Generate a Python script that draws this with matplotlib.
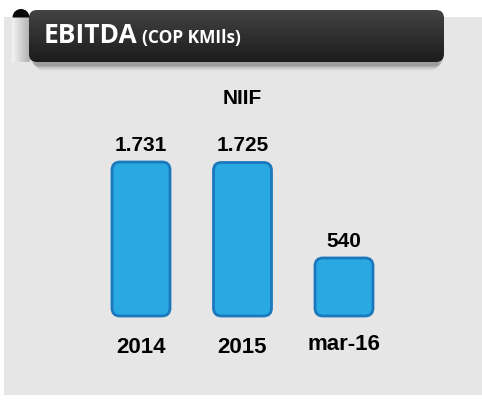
import numpy as np
import matplotlib
matplotlib.use("Agg")
import matplotlib.pyplot as plt
from matplotlib.patches import FancyBboxPatch, Rectangle, Wedge

# chart data
categories = ["2014", "2015", "mar-16"]
values = np.array([1731, 1725, 540])
value_labels = ["1.731", "1.725", "540"]
series_name = "NIIF"
title_main = "EBITDA"
title_unit = "(COP KMIls)"
base = -180  # axis minimum of the original chart

W, H = 482, 405
fig = plt.figure(figsize=(W / 100, H / 100), dpi=100)
fig.patch.set_facecolor("white")

# background decorations in pixel coordinates
bg = fig.add_axes([0, 0, 1, 1])
bg.axis("off")

bg.add_patch(Rectangle((4, 17), W - 4, 378, facecolor="#e6e6e6", edgecolor="none", zorder=0))

# fold under the curl
fold = np.linspace(0, 1, 64).reshape(1, -1)
bg.imshow(fold, cmap=matplotlib.colors.LinearSegmentedColormap.from_list("f", ["#f4f4f4", "#b0b0b0"]),
          extent=(12, 30, 62, 17), aspect="auto", zorder=1)

# shadow
for i, a in enumerate(np.linspace(0.10, 0.02, 6)):
    bg.add_patch(FancyBboxPatch((31 + i, 14 + i), 412 - 2 * i, 52, boxstyle="round,pad=0,rounding_size=8",
                                facecolor="black", edgecolor="none", alpha=a, zorder=2))

bg.add_patch(Wedge((21, 17.5), 8.5, 180, 360, facecolor="#0a0a0a", edgecolor="none", zorder=4))

banner = FancyBboxPatch((29, 10), 415, 52, boxstyle="round,pad=0,rounding_size=8",
                        facecolor="none", edgecolor="none", zorder=3)
bg.add_patch(banner)
grad = np.linspace(0, 1, 64).reshape(-1, 1)
img = bg.imshow(grad, cmap=matplotlib.colors.LinearSegmentedColormap.from_list("b", ["#434343", "#1c1c1c"]),
                extent=(29, 444, 62, 10), aspect="auto", zorder=3)
img.set_clip_path(banner)

bg.set_xlim(0, W)
bg.set_ylim(H, 0)

t1 = bg.text(44, 43, title_main, color="white", fontsize=19, fontweight="bold",
             family="Open Sans", va="baseline", zorder=5)
fig.canvas.draw()
bb = t1.get_window_extent()
bg.text(bb.x1 + 4, 43, title_unit, color="white", fontsize=12.5, fontweight="bold",
        family="Open Sans", va="baseline", zorder=5)

# main chart
ax = fig.add_axes([0, 0, 1, 1])
ax.patch.set_alpha(0)
ax.axis("off")
xpx = 101.5
ypx = 0.08059
x0, y0 = 141, 316
ax.set_xlim(-x0 / xpx, (W - x0) / xpx)
ax.set_ylim(base - (H - y0) / ypx, base + y0 / ypx)

x = np.arange(len(categories))
bars = ax.bar(x, values - base, bottom=base, width=58 / xpx)
for p in bars:
    bx, by, bw, bh = p.get_x(), p.get_y(), p.get_width(), p.get_height()
    p.remove()
    ax.add_patch(FancyBboxPatch((bx, by), bw, bh,
                                boxstyle="round,pad=0,rounding_size=%f" % (8 / xpx),
                                mutation_aspect=(1 / ypx) / (1 / xpx),
                                facecolor="#29a9e1", edgecolor="#1b78bd", linewidth=2, zorder=3))

for xi, v, lab in zip(x, values, value_labels):
    ax.annotate(lab, (xi, v), xytext=(0, 7), textcoords="offset pixels", ha="center", va="bottom",
                fontsize=15, fontweight="bold", family="Liberation Sans", color="black")

for i, (xi, cat) in enumerate(zip(x, categories)):
    off = -21 if i < 2 else -18
    ax.annotate(cat, (xi, base), xytext=(0, off), textcoords="offset pixels", ha="center", va="top",
                fontsize=16, fontweight="bold", family="Liberation Sans", color="black")

ax.text(242, 98, series_name, transform=bg.transData, ha="center", va="center",
        fontsize=15, fontweight="bold", family="Liberation Sans", color="black")

fig.savefig("out.png", dpi=100)
